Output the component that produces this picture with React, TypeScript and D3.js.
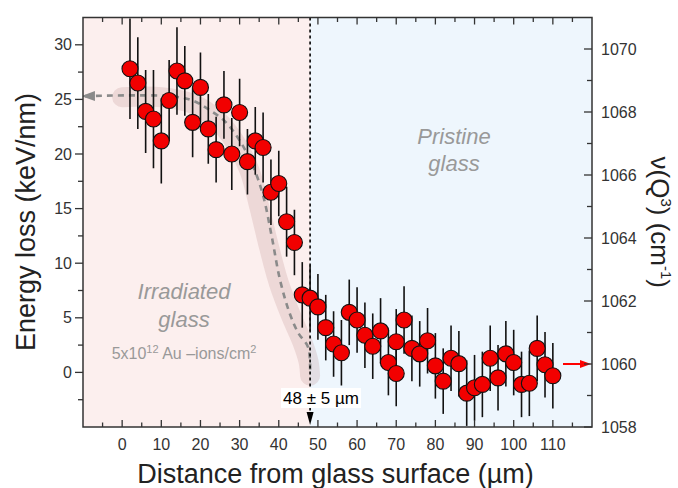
import React from 'react';
import * as d3 from 'd3';

// ---- data ----
const distance = [2, 4, 6, 8, 10, 12, 14, 16, 18, 20, 22, 24, 26, 28, 30, 32, 34, 36, 38, 40,
  42, 44, 46, 48, 50, 52, 54, 56, 58, 60, 62, 64, 66, 68, 70, 70, 72, 74, 76, 78, 80, 82, 84, 86,
  88, 90, 92, 94, 96, 98, 100, 102, 104, 106, 108, 110];
const energyLoss = [27.8, 26.5, 23.9, 23.2, 21.2, 24.9, 27.6, 26.7, 22.9, 26.1, 22.3, 20.4, 24.5, 20.0,
  23.8, 19.3, 21.2, 20.6, 16.5, 17.3, 13.8, 11.9, 7.1, 6.8, 6.0, 4.1, 2.6, 1.8, 5.5, 4.8, 3.4, 2.4,
  3.8, 0.9, 2.8, -0.1, 4.8, 2.2, 1.7, 2.9, 0.6, -0.8, 1.3, 0.8, -1.9, -1.4, -1.1, 1.3, -0.5, 1.7,
  0.9, -1.1, -1.0, 2.2, 0.7, -0.3];
const errorBar = [4.6, 4.2, 3.8, 4.5, 3.9, 3.7, 4.0, 3.2, 3.2, 3.2, 3.2, 3.0, 3.1, 3.3, 3.1, 3.0, 3.1,
  3.2, 3.0, 3.0, 3.2, 3.0, 3.0, 3.0, 3.0, 3.0, 3.0, 3.0, 3.0, 3.0, 3.0, 3.0, 3.0, 3.0, 3.0, 3.0, 3.1,
  3.0, 3.0, 3.0, 3.0, 3.0, 3.0, 3.0, 3.0, 3.0, 3.0, 3.0, 3.0, 3.0, 3.0, 3.0, 3.0, 3.0, 3.0, 3.0];

// guide curve (dashed) and shaded band, in data units (x: µm, y: keV/nm)
const guideX = [-9.5, 12, 18, 22, 26.5, 30.4, 33.4, 36, 38.2, 40.3, 42.8, 45, 47.5, 48];
const guideY = [25.3, 25.3, 24.9, 24.1, 22.9, 21.0, 18.9, 16.2, 12.45, 8.5, 5.4, 3.6, 2.3, 0];
const bandX = [0, 10, 18, 24, 29, 32.5, 35, 37.5, 40, 43, 46, 47.6, 48];
const bandY = [25.2, 25.2, 24.6, 23.2, 21.0, 18.5, 15.2, 11.5, 8.2, 5.3, 2.8, 1.0, -0.3];

const xMajorTicks = [0, 10, 20, 30, 40, 50, 60, 70, 80, 90, 100, 110];
const xMinorTicks = [-5, 5, 15, 25, 35, 45, 55, 65, 75, 85, 95, 105, 115];
const yLeftTicks = [0, 5, 10, 15, 20, 25, 30];
const yLeftMinor = [-2.5, 2.5, 7.5, 12.5, 17.5, 22.5, 27.5];
const yRightTicks = [1058, 1060, 1062, 1064, 1066, 1068, 1070];
const yRightMinor = [1059, 1061, 1063, 1065, 1067, 1069];
const boundary = 48;
const rightArrowLevel = 1060;

const FONT = "'Liberation Sans', Arial, sans-serif";

export default function App() {
  const W = 678, H = 488;
  const L = 83, R = 592, T = 17.5, B = 427;
  const x = d3.scaleLinear().domain([-10, 120]).range([L, R]);
  const yL = d3.scaleLinear().domain([-5, 32.5]).range([B, T]);
  const yR = d3.scaleLinear().domain([1058, 1071]).range([B, T]);

  const line = d3.line<[number, number]>()
    .x(d => x(d[0])).y(d => yL(d[1]))
    .curve(d3.curveCatmullRom.alpha(0.5));
  const guidePath = line(guideX.map((v, i) => [v, guideY[i]] as [number, number])) || '';
  const bandPath = line(bandX.map((v, i) => [v, bandY[i]] as [number, number])) || '';

  const xb = x(boundary);
  const gx = x(guideX[0]);
  const gy = yL(guideY[0]);
  const ry = yR(rightArrowLevel);

  return (
    <svg width={W} height={H} style={{ position: 'absolute', left: 0, top: 0, background: '#fff' }}
      fontFamily={FONT}>
      <defs>
        <clipPath id="plot"><rect x={L} y={T} width={R - L} height={B - T} /></clipPath>
      </defs>
      {/* region backgrounds */}
      <rect x={L} y={T} width={xb - L} height={B - T} fill="#fcefee" />
      <rect x={xb} y={T} width={R - xb} height={B - T} fill="#eef6fd" />

      <g clipPath="url(#plot)">
        {/* band */}
        <path d={bandPath} fill="none" stroke="rgba(170,110,110,0.18)" strokeWidth={20}
          strokeLinecap="round" strokeLinejoin="round" />
        {/* guide dashed curve */}
        <path d={guidePath} fill="none" stroke="#8a8a8a" strokeWidth={2.6} strokeDasharray="6,5" />
        <polygon points={`${gx - 4},${gy} ${gx + 10},${gy - 5} ${gx + 10},${gy + 5}`} fill="#8a8a8a" />

        {/* boundary line */}
        <line x1={xb} x2={xb} y1={T} y2={B - 12} stroke="#000" strokeWidth={1.6} strokeDasharray="3,3" />
        <polygon points={`${xb},${B - 2} ${xb - 3.5},${B - 15} ${xb + 3.5},${B - 15}`} fill="#000" />
      </g>

      {/* region labels */}
      <g fill="#999" fontStyle="italic" fontSize={22} textAnchor="middle">
        <text x={184} y={299}>Irradiated</text>
        <text x={184} y={327}>glass</text>
        <text x={454} y={144}>Pristine</text>
        <text x={454} y={171}>glass</text>
      </g>
      <text x={184} y={359} fill="#999" fontSize={16} textAnchor="middle">
        5x10<tspan fontSize={11} dy={-6}>12</tspan><tspan dy={6}> Au –ions/cm</tspan><tspan fontSize={11} dy={-6}>2</tspan>
      </text>

      {/* data: error bars + points */}
      <g clipPath="url(#plot)">
        {distance.map((d, i) => (
          <line key={'e' + i} x1={x(d)} x2={x(d)} y1={yL(energyLoss[i] + errorBar[i])}
            y2={yL(energyLoss[i] - errorBar[i])} stroke="#111" strokeWidth={1.6} />
        ))}
        {distance.map((d, i) => (
          <circle key={'p' + i} cx={x(d)} cy={yL(energyLoss[i])} r={8} fill="#f20000" stroke="#111" strokeWidth={1.1} />
        ))}
      </g>

      {/* boundary label */}
      <rect x={281} y={388} width={80} height={20} fill="#fff" />
      <text x={321} y={404} fontSize={17} textAnchor="middle" fill="#000">48 ± 5 µm</text>

      {/* right red arrow */}
      <line x1={R - 29} x2={R - 10} y1={ry} y2={ry} stroke="#f00" strokeWidth={2} />
      <polygon points={`${R - 1},${ry} ${R - 12},${ry - 4} ${R - 12},${ry + 4}`} fill="#f00" />

      {/* frame */}
      <rect x={L} y={T} width={R - L} height={B - T} fill="none" stroke="#333" strokeWidth={1.5} />

      {/* bottom / top ticks */}
      {xMajorTicks.map(t => (
        <g key={'xt' + t}>
          <line x1={x(t)} x2={x(t)} y1={B} y2={B - 7} stroke="#333" strokeWidth={1.3} />
          <line x1={x(t)} x2={x(t)} y1={T} y2={T + 7} stroke="#333" strokeWidth={1.3} />
          <text x={x(t)} y={450} fontSize={16} textAnchor="middle" fill="#333">{t}</text>
        </g>
      ))}
      {xMinorTicks.map(t => (
        <g key={'xm' + t}>
          <line x1={x(t)} x2={x(t)} y1={B} y2={B - 4.5} stroke="#333" strokeWidth={1.3} />
          <line x1={x(t)} x2={x(t)} y1={T} y2={T + 4.5} stroke="#333" strokeWidth={1.3} />
        </g>
      ))}

      {/* left axis */}
      {yLeftTicks.map(t => (
        <g key={'yl' + t}>
          <line x1={L} x2={L - 8} y1={yL(t)} y2={yL(t)} stroke="#333" strokeWidth={1.3} />
          <text x={72} y={yL(t) + 5.5} fontSize={16} textAnchor="end" fill="#333">{t}</text>
        </g>
      ))}
      {yLeftMinor.map(t => (
        <line key={'ylm' + t} x1={L} x2={L - 5} y1={yL(t)} y2={yL(t)} stroke="#333" strokeWidth={1.3} />
      ))}

      {/* right axis */}
      {yRightTicks.map(t => (
        <g key={'yr' + t}>
          <line x1={R} x2={R - 8} y1={yR(t)} y2={yR(t)} stroke="#333" strokeWidth={1.3} />
          <text x={601} y={yR(t) + 5.5} fontSize={16} textAnchor="start" fill="#333">{t}</text>
        </g>
      ))}
      {yRightMinor.map(t => (
        <line key={'yrm' + t} x1={R} x2={R - 5} y1={yR(t)} y2={yR(t)} stroke="#333" strokeWidth={1.3} />
      ))}

      {/* axis titles */}
      <text x={335.5} y={483} fontSize={27} textAnchor="middle" fill="#222">Distance from glass surface (µm)</text>
      <text transform={`translate(35,222) rotate(-90)`} fontSize={27} textAnchor="middle" fill="#222">
        Energy loss (keV/nm)
      </text>
      <text transform={`translate(651,${(T + B) / 2}) rotate(90)`} fontSize={26} textAnchor="middle" fill="#222">
        ν(Q<tspan fontSize={15} dy={-10}>3</tspan><tspan dy={10}>) (cm</tspan><tspan fontSize={15} dy={-10}>-1</tspan><tspan dy={10}>)</tspan>
      </text>
    </svg>
  );
}
